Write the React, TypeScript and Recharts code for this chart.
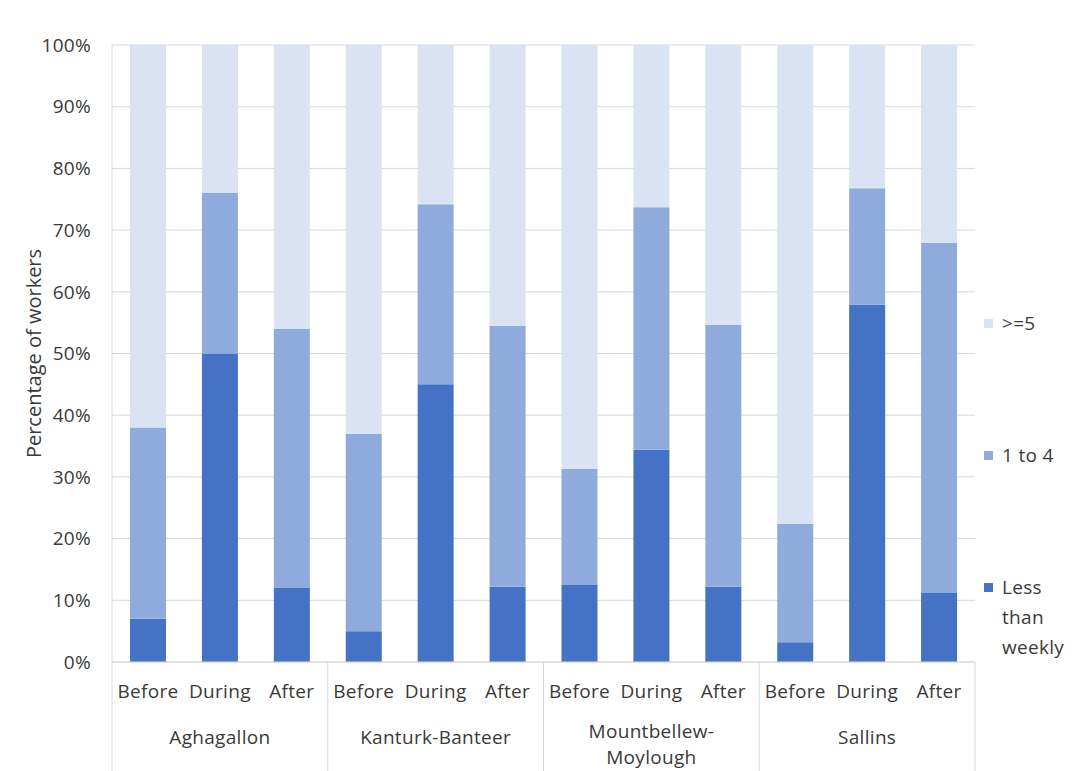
import React from 'react';
import { BarChart, Bar, XAxis, YAxis, CartesianGrid, Legend } from 'recharts';

const groups = ['Aghagallon', 'Kanturk-Banteer', 'Mountbellew-Moylough', 'Sallins'];
const groupLabelLines = [['Aghagallon'], ['Kanturk-Banteer'], ['Mountbellew-', 'Moylough'], ['Sallins']];
const periods = ['Before', 'During', 'After'];

// shares per bar, in order group x period
const lessThanWeekly = [7, 50, 12, 5, 45, 12.2, 12.5, 34.4, 12.2, 3.2, 57.9, 11.2];
const oneToFour = [31, 26, 42, 32, 29.2, 42.3, 18.8, 39.3, 42.4, 19.2, 18.9, 56.7];
const fiveOrMore = [62, 24, 46, 63, 25.8, 45.5, 68.7, 26.3, 45.4, 77.6, 23.2, 32.1];

const yTicks = [0, 10, 20, 30, 40, 50, 60, 70, 80, 90, 100];
const legendOrder = ['>=5', '1 to 4', 'Less than weekly'];

const W = 1078;
const H = 771;
const MARGIN = { top: 45, right: 103, left: 0, bottom: 0 };
const Y_W = 112;
const X_H = 109;
const AXIS_Y = H - X_H;
const PLOT_W = W - MARGIN.right - Y_W;

const FONT = '"Open Sans", sans-serif';
const TEXT = '#3a3a3a';
const GRID = '#D9D9D9';

const data = groups.flatMap((g, gi) =>
  periods.map((p, pi) => {
    const i = gi * periods.length + pi;
    return { id: i, group: g, period: p, less: lessThanWeekly[i], mid: oneToFour[i], high: fiveOrMore[i] };
  })
);

const textStyle = { fontFamily: FONT, fontSize: 19, fill: TEXT, letterSpacing: 0.3 };

function CategoryTick(props: any) {
  const { x, payload } = props;
  const i = payload.index;
  const bw = PLOT_W / data.length;
  const left = x - bw / 2;
  const right = x + bw / 2;
  const gi = Math.floor(i / periods.length);
  const lines = groupLabelLines[gi];
  // a wrapped label starts a little higher so its second line stays inside the picture
  const firstY = AXIS_Y + (lines.length > 1 ? 76 : 82);
  return (
    <g>
      <text x={x} y={AXIS_Y + 36} textAnchor="middle" style={textStyle}>
        {data[i].period}
      </text>
      {i % periods.length === 0 && <line x1={left} x2={left} y1={AXIS_Y} y2={H} stroke={GRID} />}
      {i === data.length - 1 && <line x1={right} x2={right} y1={AXIS_Y} y2={H} stroke={GRID} />}
      {i % periods.length === 1 &&
        lines.map((line, li) => (
          <text key={li} x={x} y={firstY + li * 26} textAnchor="middle" style={textStyle}>
            {line}
          </text>
        ))}
    </g>
  );
}

function LegendBox(props: any) {
  const items = [...(props.payload || [])].sort(
    (a: any, b: any) => legendOrder.indexOf(a.value) - legendOrder.indexOf(b.value)
  );
  return (
    <div style={{ fontFamily: FONT, fontSize: 19, color: TEXT, letterSpacing: 0.3 }}>
      {items.map((it: any) => (
        <div key={it.value} style={{ height: 132, display: 'flex', alignItems: 'flex-start' }}>
          <span
            style={{ display: 'inline-block', width: 9, height: 9, background: it.color, marginTop: 11, marginRight: 9, flex: 'none' }}
          />
          <span style={{ lineHeight: '30px', width: 76 }}>{it.value}</span>
        </div>
      ))}
    </div>
  );
}

export default function App() {
  return (
    <div style={{ width: W, height: H, background: '#fff', overflow: 'hidden' }}>
      <style>{'body{margin:0}'}</style>
      <BarChart width={W} height={H} data={data} margin={MARGIN}>
        <CartesianGrid vertical={false} stroke={GRID} />
        <XAxis
          dataKey="id"
          height={X_H}
          interval={0}
          tickLine={false}
          axisLine={{ stroke: GRID }}
          tick={<CategoryTick />}
        />
        <YAxis
          width={Y_W}
          domain={[0, 100]}
          ticks={yTicks}
          tickFormatter={(v) => `${v}%`}
          tickLine={false}
          tickSize={0}
          tickMargin={21}
          axisLine={{ stroke: GRID }}
          tick={textStyle}
          label={{
            content: () => (
              <text
                x={33}
                y={(MARGIN.top + AXIS_Y) / 2}
                transform={`rotate(-90 33 ${(MARGIN.top + AXIS_Y) / 2})`}
                textAnchor="middle"
                dominantBaseline="central"
                style={{ fontFamily: FONT, fontSize: 20, fill: TEXT }}
              >
                Percentage of workers
              </text>
            ),
          }}
        />
        <Legend
          layout="vertical"
          align="center"
          verticalAlign="middle"
          content={<LegendBox />}
          wrapperStyle={{ left: 984, top: 308, width: 94 }}
        />
        <Bar dataKey="less" name="Less than weekly" stackId="s" fill="#4472C4" barSize={36} isAnimationActive={false} />
        <Bar dataKey="mid" name="1 to 4" stackId="s" fill="#8FAADC" barSize={36} isAnimationActive={false} />
        <Bar dataKey="high" name=">=5" stackId="s" fill="#DAE3F3" barSize={36} isAnimationActive={false} />
      </BarChart>
    </div>
  );
}
